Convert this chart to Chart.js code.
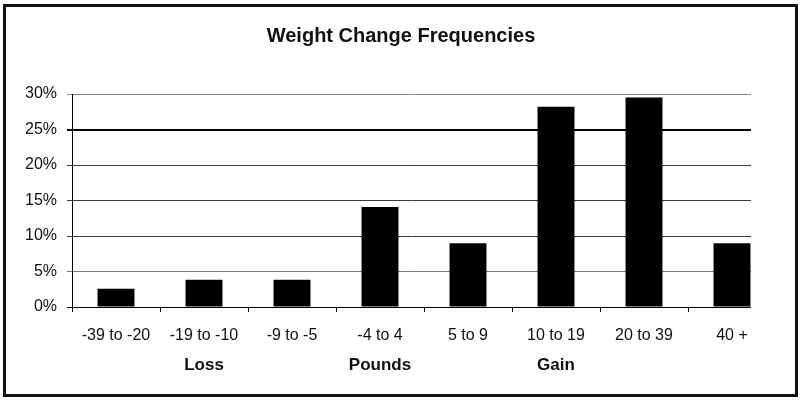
<!DOCTYPE html>
<html>
<head>
<meta charset="utf-8">
<script src="https://cdn.jsdelivr.net/npm/chart.js@4.4.0/dist/chart.umd.min.js"></script>
<style>
  body { margin: 0; background: #fff; }
  #wrap { position: relative; width: 800px; height: 400px; }
  #frame {
    position: absolute; left: 3px; top: 4px; width: 795px; height: 393px;
    border: 3px solid #111; box-sizing: border-box; pointer-events: none;
  }
</style>
</head>
<body>
<div id="wrap">
  <canvas id="weightChart" width="800" height="400"></canvas>
  <div id="frame"></div>
</div>
<script>
// Chart data
const categories = ['-39 to -20', '-19 to -10', '-9 to -5', '-4 to 4', '5 to 9', '10 to 19', '20 to 39', '40 +'];
const groupLabels = ['', 'Loss', '', 'Pounds', '', 'Gain', '', ''];
const frequencies = [2.56, 3.85, 3.85, 14.10, 8.97, 28.21, 29.49, 8.97];
const yTicks = [0, 5, 10, 15, 20, 25, 30];

const fontFamily = '"Liberation Sans", Arial, sans-serif';

// The original plot area is cut off just after the last bar
const clipAfterLastBar = {
    id: 'clipAfterLastBar',
    beforeDraw(chart) {
        const meta = chart.getDatasetMeta(0);
        const last = meta.data[meta.data.length - 1];
        const edge = last.x + last.width / 2 + 0.5;
        const ctx = chart.ctx;
        ctx.save();
        ctx.beginPath();
        ctx.rect(0, 0, edge, chart.height);
        ctx.clip();
    },
    afterDraw(chart) {
        chart.ctx.restore();
    }
};

function gridColor(ctx) {
    const v = ctx.tick ? ctx.tick.value : null;
    if (v === 30) return '#8a8a8a';
    if (v === 25) return '#000';
    if (v === 5) return '#777';
    if (v === 0) return '#000';
    return '#3a3a3a';
}

document.addEventListener('DOMContentLoaded', function () {
    const ctx = document.getElementById('weightChart').getContext('2d');

    new Chart(ctx, {
        type: 'bar',
        data: {
            labels: categories,
            datasets: [{
                label: 'Frequency',
                data: frequencies,
                backgroundColor: '#000',
                borderWidth: 0,
                barPercentage: 0.42,
                categoryPercentage: 1.0
            }]
        },
        options: {
            responsive: false,
            animation: false,
            devicePixelRatio: 1,
            layout: {
                padding: { left: 26, right: 24, top: 0, bottom: 13 }
            },
            plugins: {
                legend: { display: false },
                tooltip: { enabled: false },
                title: {
                    display: true,
                    text: 'Weight Change Frequencies',
                    color: '#111',
                    font: { family: fontFamily, size: 20, weight: 'bold' },
                    padding: { top: 24, bottom: 46 }
                }
            },
            scales: {
                x: {
                    weight: 0,
                    grid: {
                        offset: true,
                        drawOnChartArea: false,
                        drawTicks: true,
                        tickLength: 5,
                        color: '#000'
                    },
                    border: { display: true, color: '#000', width: 1 },
                    ticks: {
                        color: '#111',
                        padding: 14,
                        maxRotation: 0,
                        autoSkip: false,
                        font: { family: fontFamily, size: 16 }
                    },
                    afterFit: s => { s.height = 40; }
                },
                x2: {
                    type: 'category',
                    position: 'bottom',
                    weight: 1,
                    labels: groupLabels,
                    grid: { display: false, drawTicks: false },
                    border: { display: false },
                    ticks: {
                        color: '#111',
                        padding: 8,
                        maxRotation: 0,
                        autoSkip: false,
                        font: { family: fontFamily, size: 17, weight: 'bold' }
                    },
                    afterFit: s => { s.height = 40; }
                },
                y: {
                    min: 0,
                    max: 30,
                    afterBuildTicks: s => { s.ticks = yTicks.map(v => ({ value: v })); },
                    grid: {
                        color: gridColor,
                        lineWidth: c => (c.tick && c.tick.value === 25 ? 2 : 1),
                        drawTicks: true,
                        tickLength: 5
                    },
                    border: { display: true, color: '#000', width: 1 },
                    ticks: {
                        color: '#111',
                        padding: 10,
                        font: { family: fontFamily, size: 16 },
                        callback: v => v + '%'
                    },
                    afterFit: s => { s.width = 46; }
                }
            }
        },
        plugins: [clipAfterLastBar]
    });
});
</script>
</body>
</html>
